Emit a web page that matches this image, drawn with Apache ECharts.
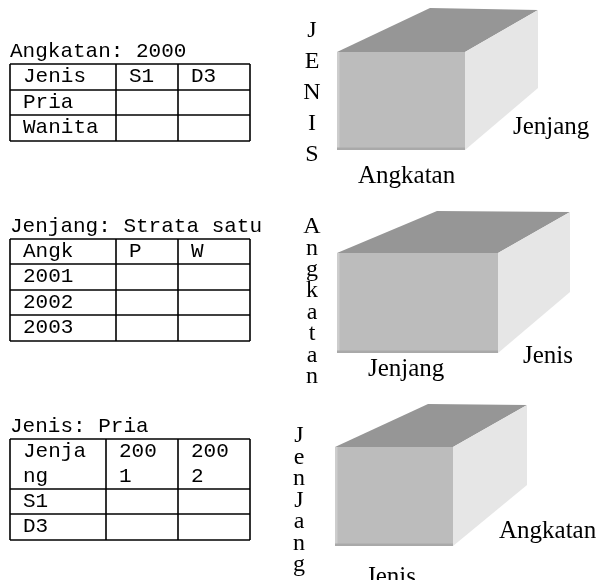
<!DOCTYPE html>
<html><head><meta charset="utf-8">
<script src="https://cdn.jsdelivr.net/npm/echarts@6/dist/echarts.min.js"></script>
<style>html,body{margin:0;padding:0;background:#fff}#c{width:603px;height:580px}</style>
</head><body><div id="c"></div>
<script>
// ---- content ----
const tableTitles = ['Angkatan: 2000', 'Jenjang: Strata satu', 'Jenis: Pria'];
const table1Header = [['Jenis'], ['S1'], ['D3']];
const table1Rows = ['Pria', 'Wanita'];
const table2Header = [['Angk'], ['P'], ['W']];
const table2Rows = ['2001', '2002', '2003'];
const table3Header = [['Jenja', 'ng'], ['200', '1'], ['200', '2']];
const table3Rows = ['S1', 'D3'];
const cubeVerticalLabels = ['JENIS', 'Angkatan', 'JenJang'];
const cubeSideLabels = ['Jenjang', 'Jenis', 'Angkatan'];
const cubeBottomLabels = ['Angkatan', 'Jenjang', 'Jenis'];

// ---- layout ----
const MONO = '21px "Liberation Mono", monospace';
const SERIF_V = '24px "Liberation Serif", "Times New Roman", serif';
const SERIF_H = '25px "Liberation Serif", "Times New Roman", serif';
const MONO_OFF = 17, SERIF_OFF = 18;
const tableLayouts = [
  {title: 58, cols: [10, 116, 178, 250], rows: [64, 90, 115, 141], lh: 25.5},
  {title: 233, cols: [10, 116, 178, 250], rows: [239, 264, 290, 315, 341], lh: 25.5},
  {title: 433, cols: [10, 106, 178, 250], rows: [439, 489, 514, 540], lh: 25}
];
const cubeLayouts = [
  {front: [337, 52, 465, 150], bl: [430, 8], br: [538, 10], rb: 88,
   vx: 312, vy: 37, vs: 31, side: [513, 133], bottom: [358, 182]},
  {front: [337, 253, 498, 353], bl: [437, 211], br: [570, 212], rb: 292,
   vx: 312, vy: 233, vs: 21.4, side: [523, 362], bottom: [368, 375]},
  {front: [335, 447, 453, 546], bl: [428, 404], br: [527, 405], rb: 485,
   vx: 299, vy: 442, vs: 21.5, side: [499, 537], bottom: [366, 583]}
];

const els = [];
function txt(x, base, s, font, off, align) {
  els.push({type: 'text', x: x, y: base - off, silent: true,
    style: {text: s, font: font, fill: '#000', align: align || 'left', verticalAlign: 'top'}});
}
function line(x1, y1, x2, y2) {
  els.push({type: 'line', silent: true, shape: {x1, y1, x2, y2},
    style: {stroke: '#000', lineWidth: 1.6}});
}
function poly(pts, fill) {
  els.push({type: 'polygon', silent: true, shape: {points: pts}, style: {fill: fill}});
}

const tables = [
  {title: tableTitles[0], header: table1Header, rows: table1Rows},
  {title: tableTitles[1], header: table2Header, rows: table2Rows},
  {title: tableTitles[2], header: table3Header, rows: table3Rows}
];
tables.forEach((t, i) => {
  const L = tableLayouts[i];
  txt(10, L.title, t.title, MONO, MONO_OFF);
  L.cols.forEach(x => line(x, L.rows[0], x, L.rows[L.rows.length - 1]));
  L.rows.forEach(y => line(L.cols[0], y, L.cols[3], y));
  t.header.forEach((cell, c) => {
    cell.forEach((s, j) => txt(L.cols[c] + 13, L.rows[0] + 19 + j * L.lh, s, MONO, MONO_OFF));
  });
  t.rows.forEach((s, r) => txt(L.cols[0] + 13, L.rows[r + 1] + 19, s, MONO, MONO_OFF));
});

cubeLayouts.forEach((C, i) => {
  const [x0, y0, x1, y1] = C.front;
  poly([[x0, y0], C.bl, C.br, [x1, y0]], '#969696');
  poly([[x1, y0], C.br, [C.br[0], C.rb], [x1, y1]], '#e6e6e6');
  poly([[x0, y0], [x1, y0], [x1, y1], [x0, y1]], '#bcbcbc');
  poly([[x0, y0], [x0 + 2.5, y0], [x0 + 2.5, y1], [x0, y1]], '#cdcdcd');
  poly([[x0, y1 - 2.5], [x1, y1 - 2.5], [x1, y1], [x0, y1]], '#a9a9a9');
  cubeVerticalLabels[i].split('').forEach((ch, j) =>
    txt(C.vx, C.vy + j * C.vs, ch, SERIF_V, SERIF_OFF, 'center'));
  txt(C.side[0], C.side[1], cubeSideLabels[i], SERIF_H, SERIF_OFF);
  txt(C.bottom[0], C.bottom[1], cubeBottomLabels[i], SERIF_H, SERIF_OFF);
});

const chart = echarts.init(document.getElementById('c'), null, {renderer: 'canvas'});
chart.setOption({backgroundColor: '#fff', animation: false, graphic: {elements: els}});
</script></body></html>
